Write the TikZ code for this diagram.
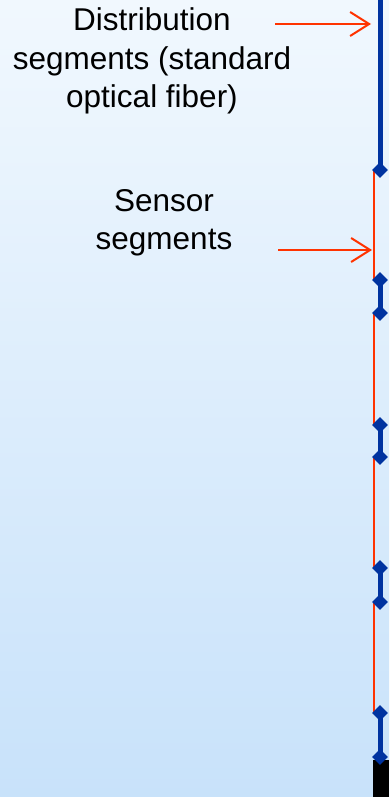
\documentclass[tikz,border=0pt]{standalone}
\usepackage{fontspec}
\setmainfont{Liberation Sans}
\usetikzlibrary{shapes.geometric,arrows.meta}
\definecolor{fiberblue}{RGB}{0,51,160}
\definecolor{sensred}{RGB}{255,51,0}
\definecolor{bgtop}{RGB}{241,248,254}
\definecolor{bgbot}{RGB}{200,226,250}
\pgfdeclarelayer{bgl}
\pgfdeclarelayer{lines}
\pgfsetlayers{bgl,lines,main}
\tikzset{
  joint/.style={diamond, fill=fiberblue, draw=none, minimum width=16pt, minimum height=16pt, inner sep=0pt},
  distseg/.style={draw=fiberblue, line width=5pt},
  sensseg/.style={draw=sensred, line width=2.2pt},
  pointer/.style={draw=sensred, line width=2pt, -{Straight Barb[length=19pt,width=24pt,line width=2pt]}},
  lbl/.style={align=center, font=\fontsize{31.5}{38.5}\selectfont, inner sep=0pt}
}
\begin{document}
\begin{tikzpicture}[x=1pt,y=-1pt]
\useasboundingbox (0,0) rectangle (389,797);
\begin{pgfonlayer}{bgl}
\shade[top color=bgtop, bottom color=bgbot] (0,0) rectangle (389,797);
\end{pgfonlayer}
% joints
\coordinate (top) at (380,0);
\node[joint] (d1) at (380,170) {};
\node[joint] (d2) at (380,280) {};
\node[joint] (d3) at (380,313) {};
\node[joint] (d4) at (380,425) {};
\node[joint] (d5) at (380,457) {};
\node[joint] (d6) at (380,568) {};
\node[joint] (d7) at (380,602) {};
\node[joint] (d8) at (380,713) {};
\node[fill=black, minimum width=16pt, minimum height=37pt, inner sep=0pt, anchor=north west] (box) at (373,760) {};
\node[joint] (d9) at (380,757) {};
\begin{pgfonlayer}{lines}
\draw[distseg] (top) -- (d1.center);
\draw[distseg] (d2.center) -- (d3.center);
\draw[distseg] (d4.center) -- (d5.center);
\draw[distseg] (d6.center) -- (d7.center);
\draw[distseg] (d8.center) -- (d9.center);
\draw[sensseg] (d1.center) -- ++(-6,0) |- (d2.center);
\draw[sensseg] (d3.center) -- ++(-6,0) |- (d4.center);
\draw[sensseg] (d5.center) -- ++(-6,0) |- (d6.center);
\draw[sensseg] (d7.center) -- ++(-6,0) |- (d8.center);
\end{pgfonlayer}
% labels
\node[lbl] (dist) at (152,61) {Distribution\\segments (standard\\optical fiber)};
\node[lbl] (sens) at (164,223) {Sensor\\segments};
\coordinate (a1s) at (275,24);
\coordinate (a1e) at (371,24);
\coordinate (a2s) at (278,250);
\coordinate (a2e) at (372,250);
\draw[pointer] (a1s) -- (a1e);
\draw[pointer] (a2s) -- (a2e);
\end{tikzpicture}
\end{document}
